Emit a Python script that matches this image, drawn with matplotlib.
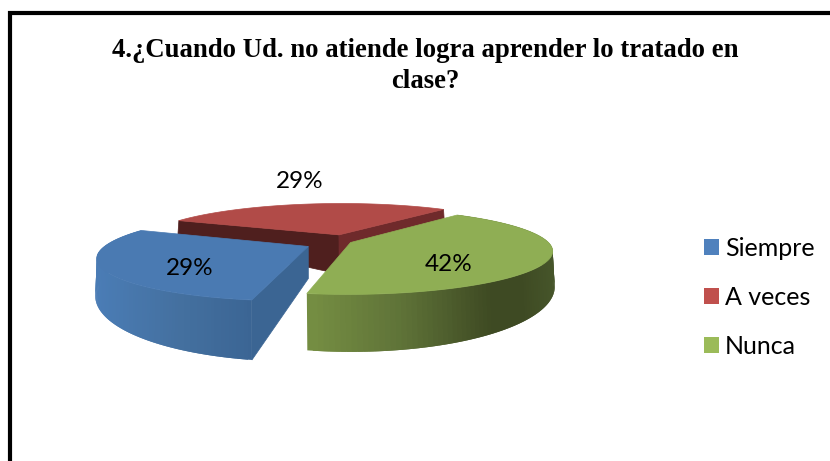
import numpy as np
import matplotlib
matplotlib.use('Agg')
import matplotlib.pyplot as plt
from matplotlib.collections import PolyCollection
from matplotlib.patches import Patch

# Data
categories = ['Siempre', 'A veces', 'Nunca']
values = [29, 29, 42]
title = '4.¿Cuando Ud. no atiende logra aprender lo tratado en\nclase?'

# Colours
legend_colors = ['#4f81bd', '#c0504d', '#9bbb59']
top_colors = ['#4a7ab2', '#b14b48', '#8fae54']

# Perspective of the pie, top and bottom plane (fitted by eye to the picture)
H_top = [210.69, 34.842, 347.28, 2.9937, 10.106, 242.17, 0.045623, 0.20688]
H_bot = [212.1, 34.135, 347.62, 0.88075, -4.9582, 272.21, 0.045408, 0.2065]
start_angle = 40.221
explode = [0.21694, 0.19127, 0.018264]


def proj(H, x, y):
    w = H[6] * x + H[7] * y + 1
    return np.c_[(H[0] * x + H[1] * y + H[2]) / w, (H[3] * x + H[4] * y + H[5]) / w]


def side(top, bot, xs, cols, zorder):
    # outer wall of a slice, shaded across the screen
    stops = np.array([matplotlib.colors.to_rgb(c) for c in cols])
    quads = []
    colors = []
    for i in range(len(top) - 2):
        # each quad runs over the next one so no seams show
        quads.append([top[i], top[i + 2], bot[i + 2], bot[i]])
        mid = (top[i, 0] + top[i + 1, 0]) / 2
        colors.append([np.interp(mid, xs, stops[:, k]) for k in range(3)])
    ax.add_collection(PolyCollection(quads, facecolors=colors, edgecolors='none', linewidths=0, zorder=zorder))


fig = plt.figure(figsize=(8.3, 4.61), dpi=100)
ax = fig.add_axes([0, 0, 1, 1])
ax.set_xlim(0, 830)
ax.set_ylim(461, 0)
ax.axis('off')

# Slices go clockwise: Nunca from the start angle, then Siempre, then A veces
ang = np.array(values) / sum(values) * 360
spans = {
    0: (start_angle - ang[2], start_angle - ang[2] - ang[0]),
    1: (start_angle - ang[2] - ang[0], start_angle - 360),
    2: (start_angle, start_angle - ang[2]),
}
geo = {}
for i in range(3):
    t = np.radians(np.linspace(spans[i][0], spans[i][1], 120))
    m = np.radians(sum(spans[i]) / 2)
    ox, oy = explode[i] * np.cos(m), explode[i] * np.sin(m)
    arc_x, arc_y = ox + np.cos(t), oy + np.sin(t)
    geo[i] = (proj(H_top, np.array([ox]), np.array([oy]))[0], proj(H_top, arc_x, arc_y),
              proj(H_bot, np.array([ox]), np.array([oy]))[0], proj(H_bot, arc_x, arc_y))

# A veces, at the back
apex, arc, apex_b, arc_b = geo[1]
apex_b = apex_b + [0, 13]
ax.fill(*zip(apex, arc[0], arc_b[0], apex_b), color='#4f1f1e', lw=0.5, zorder=2)
ax.fill(*zip(apex, arc[-1], arc_b[-1], apex_b), color='#6f2a2b', lw=0.5, zorder=2)
ax.fill(*np.vstack([apex, arc]).T, color=top_colors[1], lw=0.5, zorder=3)

# Siempre
apex, arc, apex_b, arc_b = geo[0]
side(arc, arc_b, [100, 180, 253], ['#4a7cb5', '#44709f', '#3b6594'], 4)
ax.fill(*zip(apex, arc[0], arc_b[0], apex_b), color='#3b6593', lw=0.5, zorder=4)
ax.fill(*np.vstack([apex, arc]).T, color=top_colors[0], lw=0.5, zorder=5)

# Nunca, at the front
apex, arc, apex_b, arc_b = geo[2]
side(arc, arc_b, [307, 400, 490, 520, 552], ['#768f43', '#5f7338', '#3e4a23', '#3e4a23', '#46552a'], 6)
ax.fill(*np.vstack([apex, arc]).T, color=top_colors[2], lw=0.5, zorder=7)

# Percent labels
label_pos = [(190, 268), (300, 181), (449, 264)]
for v, (x, y) in zip(values, label_pos):
    ax.text(x, y, f'{v / sum(values) * 100:.0f}%', fontsize=17.5, family='Lato', ha='center', va='center', color='black', zorder=10)

ax.text(425, 66, title, fontsize=19.3, family='Liberation Serif', fontweight='bold', ha='center', va='center', linespacing=1.31, color='black')

# Frame cut off by the image on the right and at the bottom
ax.plot([9.5, 9.5, 830], [461, 13.5, 13.5], color='black', lw=3, solid_joinstyle='miter', zorder=11)

handles = [Patch(facecolor=c, edgecolor='none', label=n) for c, n in zip(legend_colors, categories)]
ax.legend(handles=handles, loc='upper left', bbox_to_anchor=(704 / 830, 1 - 237 / 461), frameon=False,
          prop={'family': 'Lato', 'size': 18}, labelspacing=1.04, handletextpad=0.24, handlelength=0.6, handleheight=0.6,
          borderpad=0, borderaxespad=0, labelcolor='black')

fig.savefig('out.png', dpi=100)
